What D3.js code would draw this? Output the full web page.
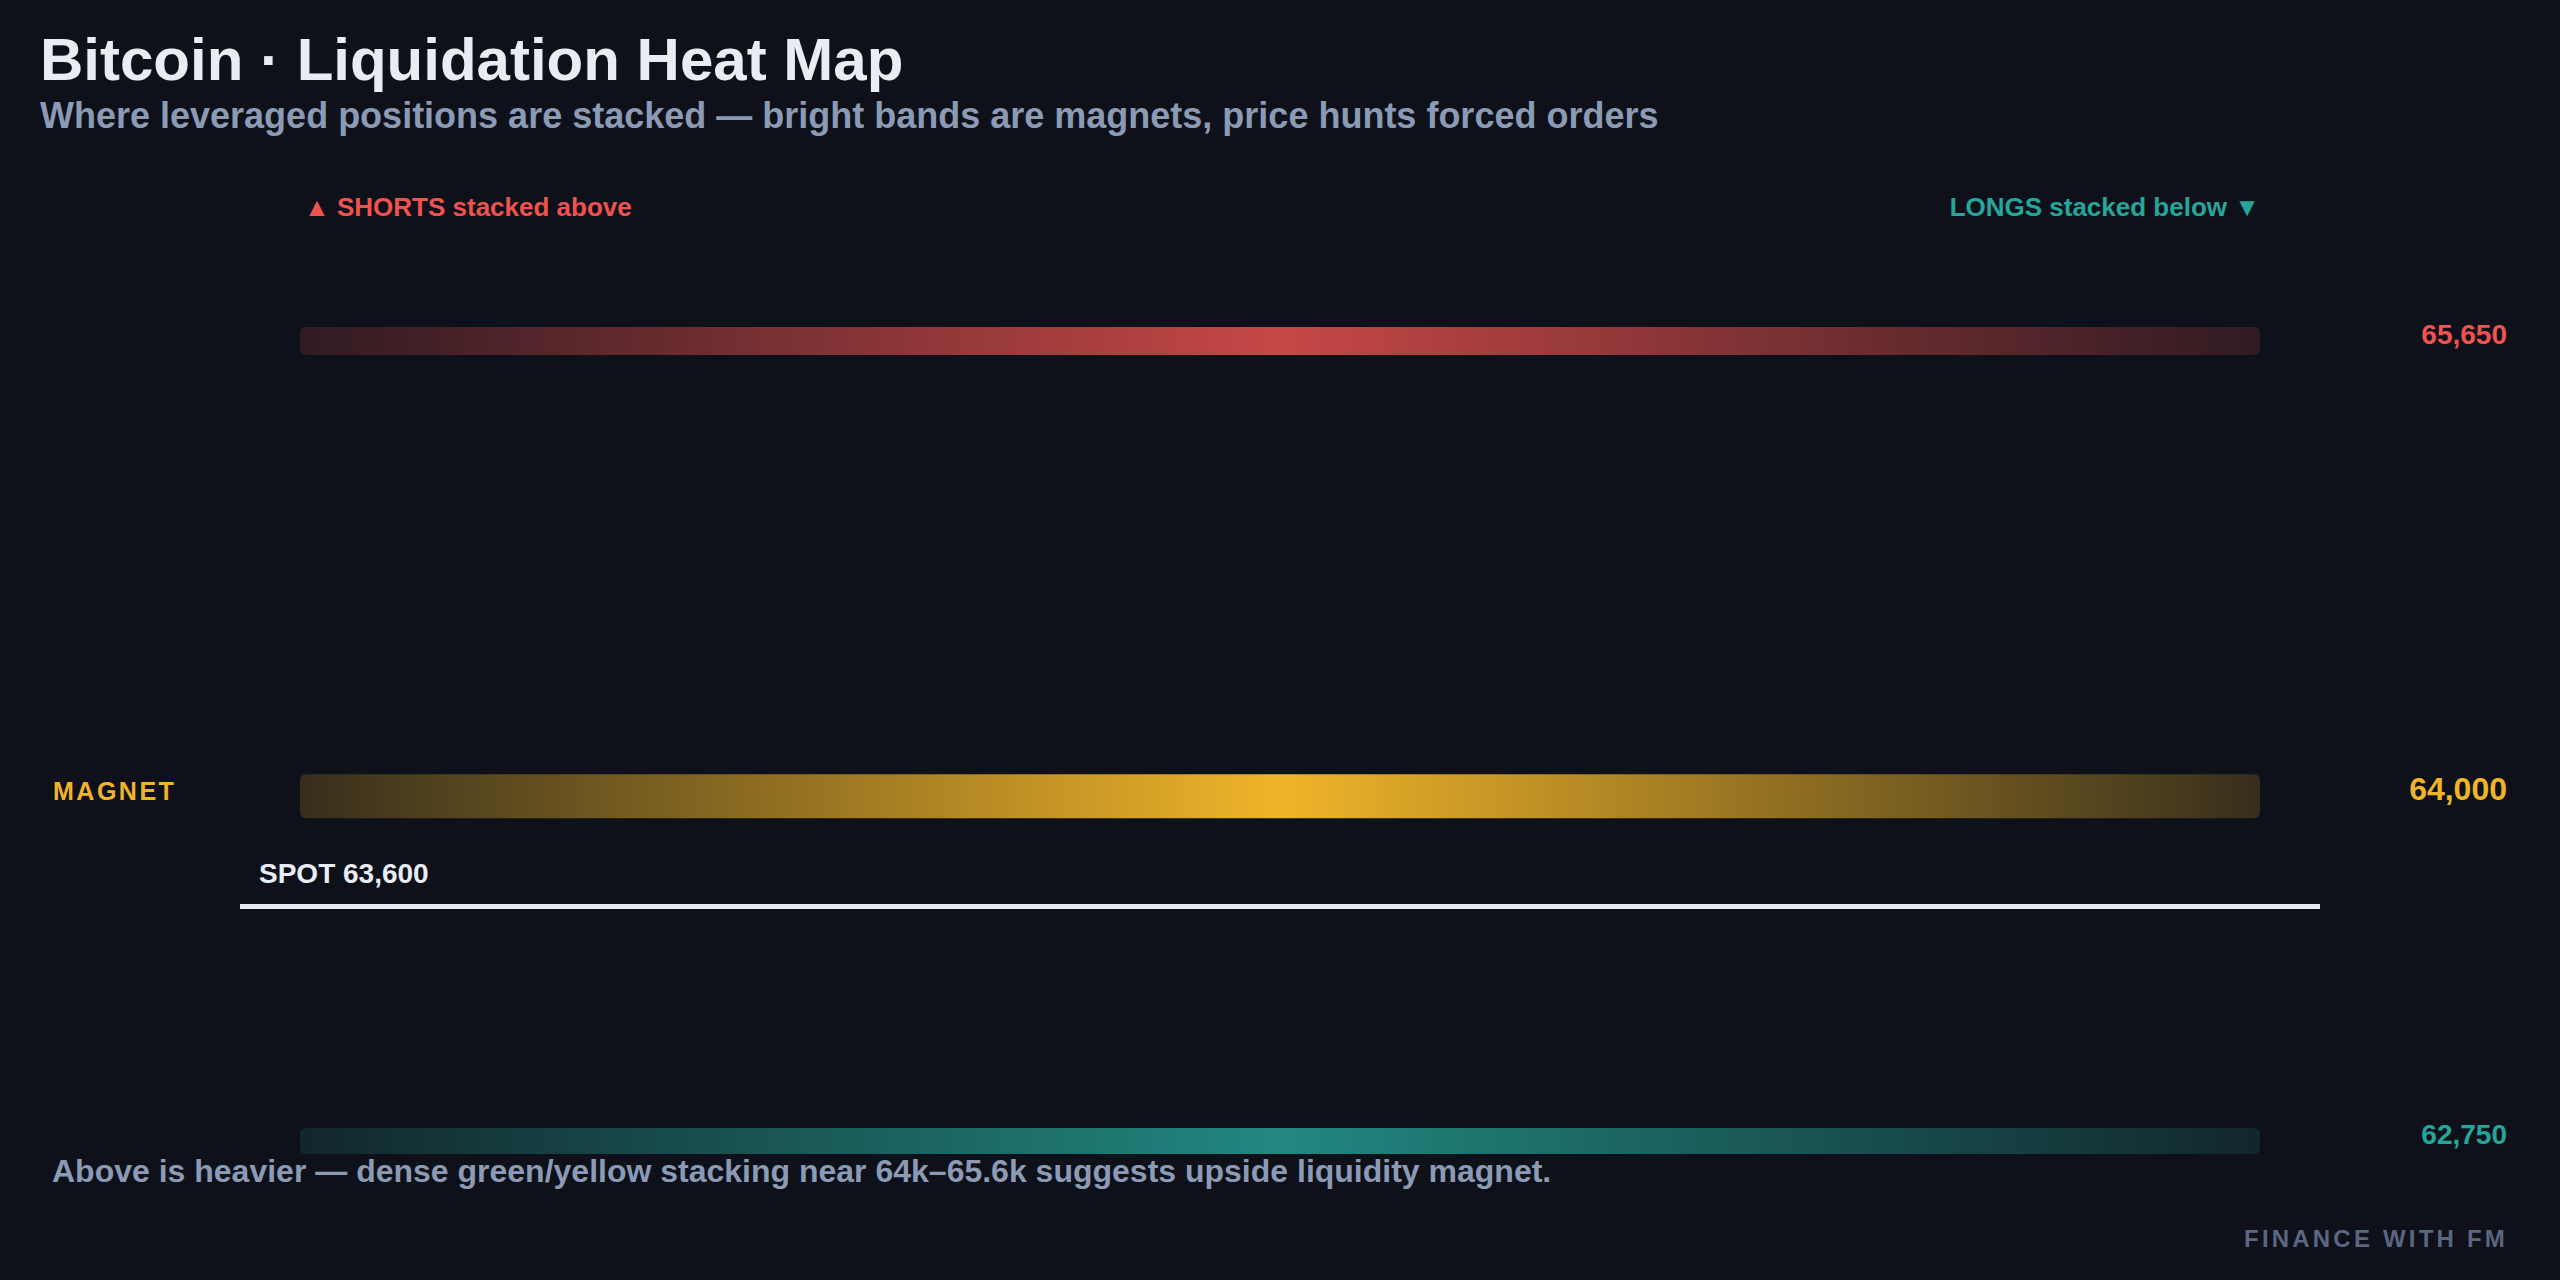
<!DOCTYPE html>
<html>
<head>
<meta charset="utf-8">
<script src="https://cdn.jsdelivr.net/npm/d3@7"></script>
<style>
  html, body { margin: 0; padding: 0; background: #0e1119; }
  svg { display: block; font-family: "Liberation Sans", Arial, Helvetica, sans-serif; }
</style>
</head>
<body>
<div id="chart"></div>
<script>
// price levels of the liquidation clusters
var levels = [65650, 64000, 62750];
var levelSides = ["short", "magnet", "long"];
var levelIntensity = [0.82, 1.0, 0.8];
var levelLabels = ["65,650", "64,000", "62,750"];
var spotPrice = 63600;
var spotLabel = "SPOT 63,600";

var W = 2560, H = 1280;
var sideColor = { short: "#ef5350", magnet: "#f0b429", long: "#26a69a" };

var svg = d3.select("#chart").append("svg")
  .attr("width", W)
  .attr("height", H)
  .style("background-color", "#0e1119");

var x = d3.scaleLinear().domain([0, 1]).range([300, 2260]);
var y = d3.scaleLinear().domain([62750, 65650]).range([1141, 341]);
var bandH = d3.scaleLinear().domain([0.8, 1]).range([26, 44]).clamp(true);

var rows = levels.map(function(p, i) {
  return { price: p, side: levelSides[i], k: levelIntensity[i], label: levelLabels[i] };
});

// gradients, bright in the middle fading to both ends
var defs = svg.append("defs");
rows.forEach(function(d, i) {
  var g = defs.append("linearGradient")
    .attr("id", "grad" + i)
    .attr("x1", "0%").attr("x2", "100%")
    .attr("y1", "0%").attr("y2", "0%");
  [[0, 0.18], [0.5, 1], [1, 0.18]].forEach(function(s) {
    g.append("stop")
      .attr("offset", (s[0] * 100) + "%")
      .attr("stop-color", sideColor[d.side])
      .attr("stop-opacity", s[1] * d.k);
  });
});

// header
svg.append("text")
  .attr("x", 40).attr("y", 80)
  .attr("fill", "#e8edf5")
  .style("font-size", "60px").style("font-weight", "bold")
  .text("Bitcoin \u00b7 Liquidation Heat Map");

svg.append("text")
  .attr("x", 40).attr("y", 128)
  .attr("fill", "#8b9ab5")
  .style("font-size", "36px").style("font-weight", "bold")
  .text("Where leveraged positions are stacked \u2014 bright bands are magnets, price hunts forced orders");

svg.append("text")
  .attr("x", 304).attr("y", 216)
  .attr("fill", sideColor.short)
  .style("font-size", "26px").style("font-weight", "bold")
  .text("\u25b2 SHORTS stacked above");

svg.append("text")
  .attr("x", 2260).attr("y", 216)
  .attr("text-anchor", "end")
  .attr("fill", sideColor.long)
  .style("font-size", "26px").style("font-weight", "bold")
  .text("LONGS stacked below \u25bc");

// bands
svg.selectAll(".band")
    .data(rows)
  .enter().append("rect")
    .attr("class", "band")
    .attr("x", x(0))
    .attr("width", x(1) - x(0))
    .attr("y", function(d) { return y(d.price) - bandH(d.k) / 2; })
    .attr("height", function(d) { return bandH(d.k); })
    .attr("rx", 6)
    .attr("fill", function(d, i) { return "url(#grad" + i + ")"; });

svg.selectAll(".lvl")
    .data(rows)
  .enter().append("text")
    .attr("class", "lvl")
    .attr("x", 2507)
    .attr("y", function(d) { return y(d.price); })
    .attr("dy", "0.12em")
    .attr("text-anchor", "end")
    .attr("fill", function(d) { return sideColor[d.side]; })
    .style("font-weight", "bold")
    .style("font-size", function(d) { return d.side == "magnet" ? "32px" : "28px"; })
    .text(function(d) { return d.label; });

var magnet = rows.filter(function(d) { return d.side == "magnet"; })[0];
svg.append("text")
  .attr("x", 53)
  .attr("y", y(magnet.price) + 4)
  .attr("fill", sideColor.magnet)
  .style("font-size", "25px").style("font-weight", "bold")
  .style("letter-spacing", "2.5px")
  .text("MAGNET");

// spot line
svg.append("line")
  .attr("x1", 240).attr("x2", 2320)
  .attr("y1", y(spotPrice)).attr("y2", y(spotPrice))
  .attr("stroke", "#e8edf5")
  .attr("stroke-width", 5);

svg.append("text")
  .attr("x", 259)
  .attr("y", y(spotPrice) - 24)
  .attr("fill", "#e8edf5")
  .style("font-size", "28px").style("font-weight", "bold")
  .text(spotLabel);

// footer
svg.append("text")
  .attr("x", 52).attr("y", 1182)
  .attr("fill", "#8b9ab5")
  .style("font-size", "32px").style("font-weight", "bold")
  .text("Above is heavier \u2014 dense green/yellow stacking near 64k\u201365.6k suggests upside liquidity magnet.");

svg.append("text")
  .attr("x", 2508).attr("y", 1247)
  .attr("text-anchor", "end")
  .attr("fill", "#5b6780")
  .style("font-size", "24px").style("font-weight", "bold")
  .style("letter-spacing", "3.2px")
  .text("FINANCE WITH FM");
</script>
</body>
</html>
